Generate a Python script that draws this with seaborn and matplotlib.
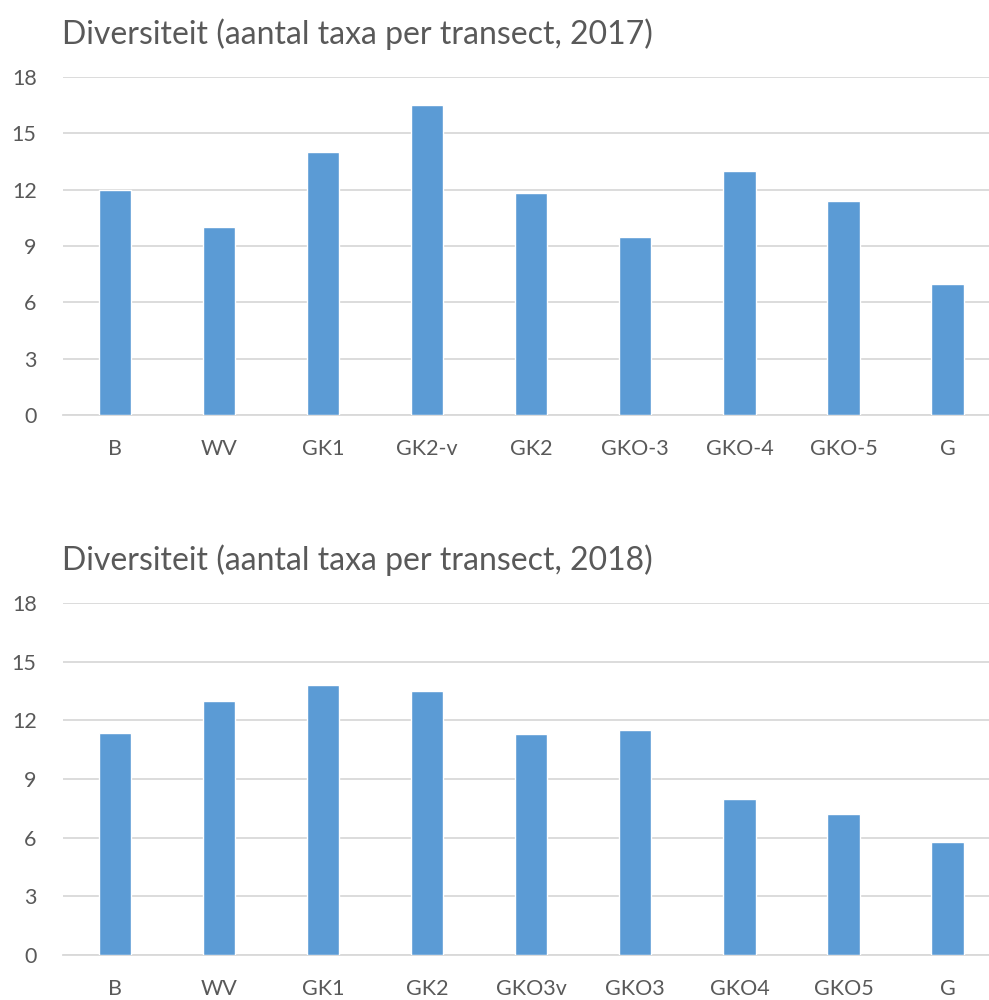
import matplotlib
matplotlib.use("Agg")
import matplotlib.pyplot as plt
import seaborn as sns
import pandas as pd

# ---- data ----
cats_2017 = ["B", "WV", "GK1", "GK2-v", "GK2", "GKO-3", "GKO-4", "GKO-5", "G"]
vals_2017 = [12, 10, 14, 16.5, 11.8, 9.5, 13, 11.4, 7]

cats_2018 = ["B", "WV", "GK1", "GK2", "GKO3v", "GKO3", "GKO4", "GKO5", "G"]
vals_2018 = [11.35, 13, 13.8, 13.5, 11.3, 11.5, 8, 7.2, 5.8]

titles = ["Diversiteit (aantal taxa per transect, 2017)",
          "Diversiteit (aantal taxa per transect, 2018)"]
yticks = [0, 3, 6, 9, 12, 15, 18]

BAR = "#5B9BD5"
GRID = "#D9D9D9"
TEXT = "#595959"

sns.set_style("white")
plt.rcParams["font.family"] = ["Lato", "DejaVu Sans"]

fig = plt.figure(figsize=(9.89, 10), dpi=100)
ax_top = fig.add_axes([0.0637, 0.585, 0.947, 0.338])
ax_bot = fig.add_axes([0.0637, 0.045, 0.947, 0.352])

for ax, cats, vals, title in [(ax_top, cats_2017, vals_2017, titles[0]),
                              (ax_bot, cats_2018, vals_2018, titles[1])]:
    df = pd.DataFrame({"transect": cats, "taxa": vals})
    sns.barplot(data=df, x="transect", y="taxa", color=BAR, width=0.31,
                saturation=1, ax=ax, zorder=3)
    ax.set_ylim(0, 18)
    ax.set_yticks(yticks)
    ax.set_xlim(-0.5, len(cats) - 0.5)
    ax.grid(axis="y", color=GRID, linewidth=1.3, zorder=0)
    ax.set_axisbelow(True)
    for s in ["top", "right", "left"]:
        ax.spines[s].set_visible(False)
    ax.spines["bottom"].set_color(GRID)
    ax.spines["bottom"].set_linewidth(1.3)
    ax.set_xlabel("")
    ax.set_ylabel("")
    ax.tick_params(axis="both", length=0, labelsize=15.5, labelcolor=TEXT)
    ax.tick_params(axis="y", pad=19)
    ax.tick_params(axis="x", pad=17)
    ax.set_title(title, loc="left", fontsize=23, color=TEXT, pad=24, x=-0.001)

plt.savefig("out.png", dpi=100)
plt.close()
